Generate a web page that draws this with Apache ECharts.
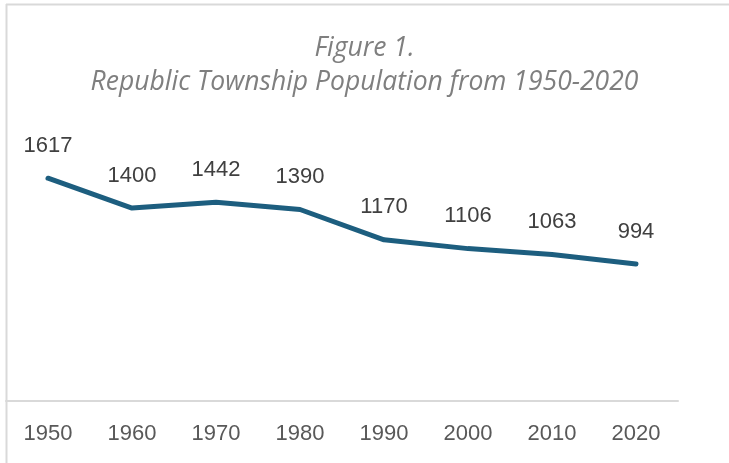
<!DOCTYPE html>
<html><head><meta charset="utf-8">
<script src="https://cdn.jsdelivr.net/npm/echarts@6/dist/echarts.min.js"></script>
<style>html,body{margin:0;padding:0;background:#fff}#c{width:729px;height:463px}</style>
</head><body><div id="c"></div>
<script>
const categories = ['1950','1960','1970','1980','1990','2000','2010','2020'];
const population = [1617, 1400, 1442, 1390, 1170, 1106, 1063, 994];
const titleLines = ['Figure 1.', 'Republic Township Population from 1950-2020'];

const chart = echarts.init(document.getElementById('c'), null, {renderer:'canvas'});
chart.setOption({
  animation: false,
  backgroundColor: '#fff',
  title: {
    text: titleLines.join('\n'),
    left: 'center', top: 26,
    textStyle: {fontFamily: 'Open Sans', fontStyle: 'italic', fontWeight: 'normal', fontSize: 26.5, color: '#7f7f7f', lineHeight: 34}
  },
  graphic: [
    {type:'line', shape:{x1:6, y1:4.5, x2:729, y2:4.5}, style:{stroke:'#d9d9d9', lineWidth:2}},
    {type:'line', shape:{x1:6.5, y1:4, x2:6.5, y2:463}, style:{stroke:'#d9d9d9', lineWidth:2}}
  ],
  grid: {left: 6, right: 51, top: 153, bottom: 62, containLabel: false},
  xAxis: {
    type: 'category', data: categories, boundaryGap: true,
    axisLine: {lineStyle: {color: '#d9d9d9', width: 2}},
    axisTick: {show: false},
    axisLabel: {fontFamily: 'Liberation Sans', fontSize: 22, color: '#595959', margin: 22}
  },
  yAxis: {
    type: 'value', min: 0, max: 1800, interval: 200,
    show: false, splitLine: {show: false}
  },
  series: [{
    type: 'line', data: population, symbol: 'circle', symbolSize: 1, showSymbol: true,
    itemStyle: {color: '#1d5e7f'},
    lineStyle: {color: '#1d5e7f', width: 5, cap: 'round', join: 'round'},
    label: {show: true, position: 'top', distance: 21, fontFamily: 'Liberation Sans', fontSize: 22, color: '#404040'}
  }]
});
</script></body></html>
